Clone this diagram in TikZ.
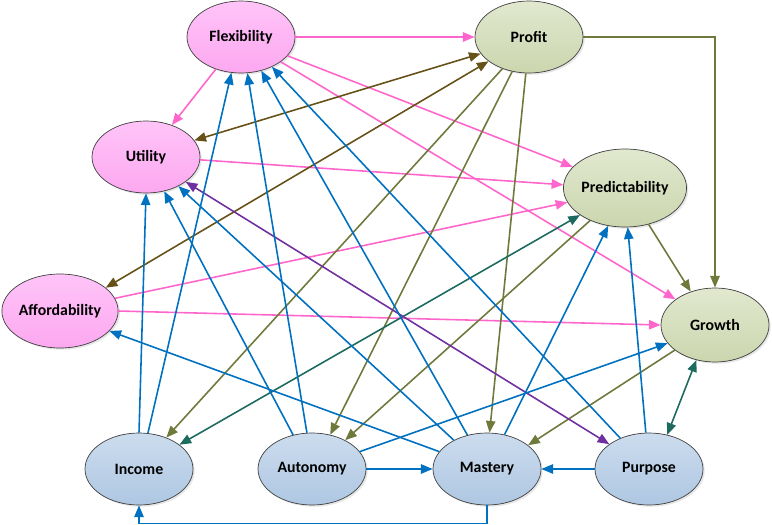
\documentclass[tikz,border=0pt]{standalone}
\usepackage{fontspec}
\setmainfont{Carlito}
\usetikzlibrary{shapes.geometric,arrows.meta,shadows}
\definecolor{linkpink}{HTML}{FF66CC}
\definecolor{linkbrown}{HTML}{665218}
\definecolor{linkolive}{HTML}{6E7A3C}
\definecolor{linkblue}{HTML}{0070C0}
\definecolor{linkteal}{HTML}{1D6A5E}
\definecolor{linkpurple}{HTML}{7030A0}
\definecolor{pkA}{HTML}{FFC4F8}
\definecolor{pkB}{HTML}{FCA8F0}
\definecolor{olA}{HTML}{E1E8CF}
\definecolor{olB}{HTML}{CBD6AE}
\definecolor{blA}{HTML}{CCDCEE}
\definecolor{blB}{HTML}{AEC7E2}

\begin{document}
\begin{tikzpicture}[x=0.03cm,y=-0.03cm,
	goal/.style={ellipse,draw=black!75,line width=0.6pt,inner sep=0pt,
		minimum width=3.24cm,minimum height=2.16cm,
		font=\fontsize{13.5}{16}\selectfont\bfseries,
		drop shadow={opacity=0.2,shadow xshift=1.5pt,shadow yshift=-1.5pt}},
	pinkgoal/.style={goal,top color=pkA,bottom color=pkB},
	olivegoal/.style={goal,top color=olA,bottom color=olB},
	bluegoal/.style={goal,top color=blA,bottom color=blB},
	link/.style={line width=1.35pt,-{Triangle[length=10pt,width=8pt]}},
	both/.style={line width=1.35pt,{Triangle[length=10pt,width=8pt]}-{Triangle[length=10pt,width=8pt]}}]
			%Config
			\useasboundingbox (0,0) rectangle (772,525);

			%Objetivos
			\node[pinkgoal] (flex) at (241,37) {Flexibility};
			\node[olivegoal] (profit) at (529,37) {Profit};
			\node[pinkgoal] (util) at (146,157) {Utility};
			\node[pinkgoal,minimum width=3.48cm,minimum height=2.22cm] (afford) at (60,311) {Affordability};
			\node[olivegoal,minimum width=3.6cm,minimum height=2.34cm] (pred) at (625,188) {Predictability};
			\node[olivegoal,minimum height=2.22cm] (growth) at (715,325) {Growth};
			\node[bluegoal] (income) at (139,469) {Income};
			\node[bluegoal] (auton) at (312,469) {Autonomy};
			\node[bluegoal] (mastery) at (487,469) {Mastery};
			\node[bluegoal] (purpose) at (649,469) {Purpose};

			%Rosa
			\draw[link,linkpink] (flex.0) -- (profit.180);
			\draw[link,linkpink] (flex.-128) -- (util.51);
			\draw[link,linkpink] (flex.-22) -- (pred.158);
			\draw[link,linkpink] (flex.-32) -- (growth.147);
			\draw[link,linkpink] (util.-3) -- (pred.177);
			\draw[link,linkpink] (afford.13) -- (pred.194);
			\draw[link,linkpink] (afford.0) -- (growth.180);

			%Marrom
			\draw[both,linkbrown] (util.19) -- (profit.199);
			\draw[both,linkbrown] (afford.27) -- (profit.211);

			%Oliva
			\draw[link,linkolive] (profit.0) -| (growth.90);
			\draw[link,linkolive] (profit.-130) -- (income.49);
			\draw[link,linkolive] (profit.-116) -- (auton.62);
			\draw[link,linkolive] (profit.-95) -- (mastery.86);
			\draw[link,linkolive] (pred.-137) -- (auton.41);
			\draw[link,linkolive] (pred.-57) -- (growth.126);
			\draw[link,linkolive] (growth.-148) -- (mastery.30);

			%Verde e roxo
			\draw[both,linkteal] (income.31) -- (pred.-149);
			\draw[both,linkteal] (growth.-118) -- (purpose.62);
			\draw[both,linkpurple] (util.-32) -- (purpose.148);

			%Azul
			\draw[link,linkblue] (income.north) -- (util.south);
			\draw[link,linkblue] (income.76) -- (flex.-105);
			\draw[link,linkblue] (auton.119) -- (util.-62);
			\draw[link,linkblue] (auton.98) -- (flex.-80);
			\draw[link,linkblue] (mastery.120) -- (flex.-59);
			\draw[link,linkblue] (mastery.139) -- (util.-42);
			\draw[link,linkblue] (mastery.160) -- (afford.-22);
			\draw[link,linkblue] (purpose.133) -- (flex.-44);
			\draw[link,linkblue] (purpose.180) -- (mastery.0);
			\draw[link,linkblue] (auton.0) -- (mastery.180);
			\draw[link,linkblue] (mastery.south) -- ++(0,18) -| (income.south);
			\draw[link,linkblue] (mastery.63) -- (pred.-114);
			\draw[link,linkblue] (purpose.95) -- (pred.-86);
			\draw[link,linkblue] (auton.20) -- (growth.-159);
		\end{tikzpicture}
\end{document}
